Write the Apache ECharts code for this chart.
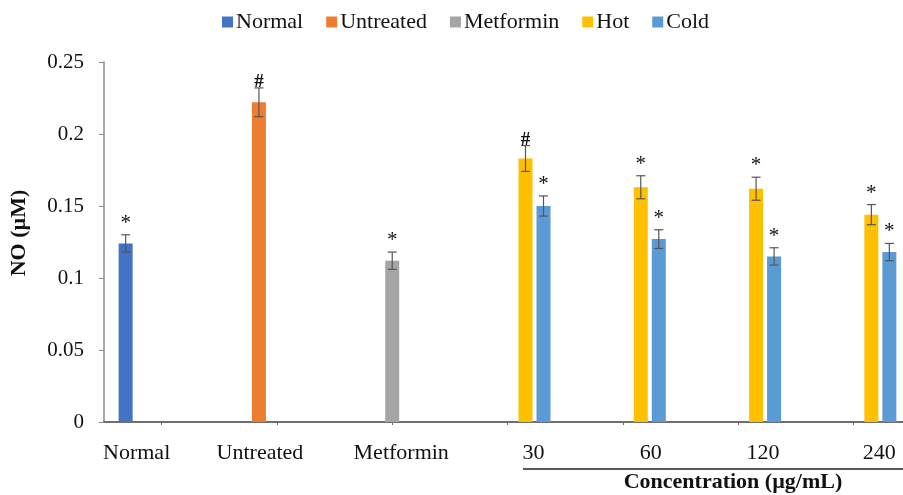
<!DOCTYPE html>
<html>
<head>
<meta charset="utf-8">
<script src="https://cdn.jsdelivr.net/npm/echarts@6/dist/echarts.min.js"></script>
<style>
  html, body { margin: 0; padding: 0; background: #fff; }
  #chart { width: 903px; height: 495px; }
</style>
</head>
<body>
<div id="chart"></div>
<script>
// Nitric oxide levels per treatment group
const categories = ['Normal', 'Untreated', 'Metformin', '30', '60', '120', '240'];
const seriesNames = ['Normal', 'Untreated', 'Metformin', 'Hot', 'Cold'];

// mean values (µM), null where the group has no bar
const normalValues    = [0.124, null, null, null, null, null, null];
const untreatedValues = [null, 0.222, null, null, null, null, null];
const metforminValues = [null, null, 0.112, null, null, null, null];
const hotValues       = [null, null, null, 0.183, 0.163, 0.162, 0.144];
const coldValues      = [null, null, null, 0.150, 0.127, 0.115, 0.118];

// standard errors
const normalErr    = [0.006, null, null, null, null, null, null];
const untreatedErr = [null, 0.010, null, null, null, null, null];
const metforminErr = [null, null, 0.006, null, null, null, null];
const hotErr       = [null, null, null, 0.009, 0.008, 0.008, 0.007];
const coldErr      = [null, null, null, 0.007, 0.0065, 0.006, 0.006];

// significance marks
const normalMarks    = ['*', null, null, null, null, null, null];
const untreatedMarks = [null, '#', null, null, null, null, null];
const metforminMarks = [null, null, '*', null, null, null, null];
const hotMarks       = [null, null, null, '#', '*', '*', '*'];
const coldMarks      = [null, null, null, '*', '*', '*', '*'];

const yTicks = { min: 0, max: 0.25, interval: 0.05 };

const colors = ['#4472C4', '#ED7D31', '#A5A5A5', '#FFC000', '#5B9BD5'];
const FONT = '"Liberation Serif", "Times New Roman", serif';
const BAR_WIDTH = 14;
const BAR_GAP_PX = 4;

// shift of each category label from its band centre
const labelShift = [-25, -17, 9, 26, 28, 25, 26];

const valueSets = [normalValues, untreatedValues, metforminValues, hotValues, coldValues];
const errSets = [normalErr, untreatedErr, metforminErr, hotErr, coldErr];
const markSets = [normalMarks, untreatedMarks, metforminMarks, hotMarks, coldMarks];

const chart = echarts.init(document.getElementById('chart'), null, { renderer: 'canvas' });

const barSeries = seriesNames.map((name, i) => ({
  name: name,
  type: 'bar',
  data: valueSets[i],
  barWidth: BAR_WIDTH,
  barGap: (BAR_GAP_PX / BAR_WIDTH * 100) + '%',
  itemStyle: { color: colors[i] },
  emphasis: { disabled: true }
}));

// error bars and significance marks, one item per drawn bar
const errData = [];
valueSets.forEach((vals, s) => {
  vals.forEach((v, c) => {
    if (v != null) errData.push([c, v, errSets[s][c], s, markSets[s][c] || '']);
  });
});

const slotCount = seriesNames.length;
const errSeries = {
  type: 'custom',
  data: errData,
  z: 5,
  silent: true,
  encode: { x: 0, y: 1 },
  renderItem: function (params, api) {
    const c = api.value(0), v = api.value(1), e = api.value(2), s = api.value(3);
    const mark = errData[params.dataIndex][4];
    const off = (s - (slotCount - 1) / 2) * (BAR_WIDTH + BAR_GAP_PX);
    const top = api.coord([c, v + e]);
    const bot = api.coord([c, v - e]);
    const x = top[0] + off;
    const cap = 4.5;
    const lineStyle = { stroke: '#555', lineWidth: 1.2 };
    const children = [
      { type: 'line', shape: { x1: x, y1: top[1], x2: x, y2: bot[1] }, style: lineStyle },
      { type: 'line', shape: { x1: x - cap, y1: top[1], x2: x + cap, y2: top[1] }, style: lineStyle },
      { type: 'line', shape: { x1: x - cap, y1: bot[1], x2: x + cap, y2: bot[1] }, style: lineStyle }
    ];
    if (mark) {
      children.push({
        type: 'text',
        style: {
          text: mark,
          x: x,
          y: mark === '#' ? top[1] + 4 : top[1] - 1,
          align: 'center',
          verticalAlign: 'bottom',
          font: (mark === '#' ? 'bold 19px ' : '21px ') + FONT,
          fill: '#111'
        }
      });
    }
    return { type: 'group', children: children };
  }
};

const rich = {};
labelShift.forEach((d, i) => {
  rich['p' + i] = {
    fontFamily: FONT,
    fontSize: 22,
    color: '#111',
    padding: d >= 0 ? [0, 0, 0, 2 * d] : [0, -2 * d, 0, 0]
  };
});

chart.setOption({
  animation: false,
  backgroundColor: '#fff',
  textStyle: { fontFamily: FONT },
  legend: {
    data: seriesNames,
    left: 217,
    top: 6,
    itemWidth: 11,
    itemHeight: 11,
    itemGap: 23,
    icon: 'rect',
    textStyle: { fontFamily: FONT, fontSize: 22, color: '#111', padding: [0, 0, 0, -2] },
    selectedMode: false
  },
  grid: { left: 104, right: -8, top: 62, bottom: 73, outerBoundsMode: 'none' },
  xAxis: {
    type: 'category',
    data: categories,
    boundaryGap: true,
    axisLine: { show: true, lineStyle: { color: '#6e6e6e', width: 2 } },
    axisTick: { show: true, alignWithLabel: true, length: 3, lineStyle: { color: '#6e6e6e' } },
    axisLabel: {
      margin: 20,
      interval: 0,
      formatter: function (value, index) { return '{p' + index + '|' + value + '}'; },
      rich: rich
    },
    splitLine: { show: false }
  },
  yAxis: {
    type: 'value',
    min: yTicks.min,
    max: yTicks.max,
    interval: yTicks.interval,
    name: 'NO (µM)',
    nameLocation: 'middle',
    nameGap: 74,
    nameRotate: 90,
    nameTextStyle: {
      fontFamily: FONT, fontSize: 22, fontWeight: 'bold', color: '#111',
      padding: [0, 0, 0, 18]
    },
    axisLine: { show: true, lineStyle: { color: '#8a8a8a', width: 1.5 } },
    axisTick: { show: true, inside: false, length: 5, lineStyle: { color: '#8a8a8a' } },
    axisLabel: { fontFamily: FONT, fontSize: 21, color: '#111', margin: 20 },
    splitLine: { show: false }
  },
  graphic: [
    {
      type: 'line',
      shape: { x1: 523, y1: 469, x2: 903, y2: 469 },
      style: { stroke: '#222', lineWidth: 1.5 }
    },
    {
      type: 'text',
      x: 733,
      y: 471,
      style: {
        text: 'Concentration (µg/mL)',
        align: 'center',
        verticalAlign: 'top',
        font: 'bold 22px ' + FONT,
        fill: '#111'
      }
    }
  ],
  series: barSeries.concat([errSeries])
});
</script>
</body>
</html>
